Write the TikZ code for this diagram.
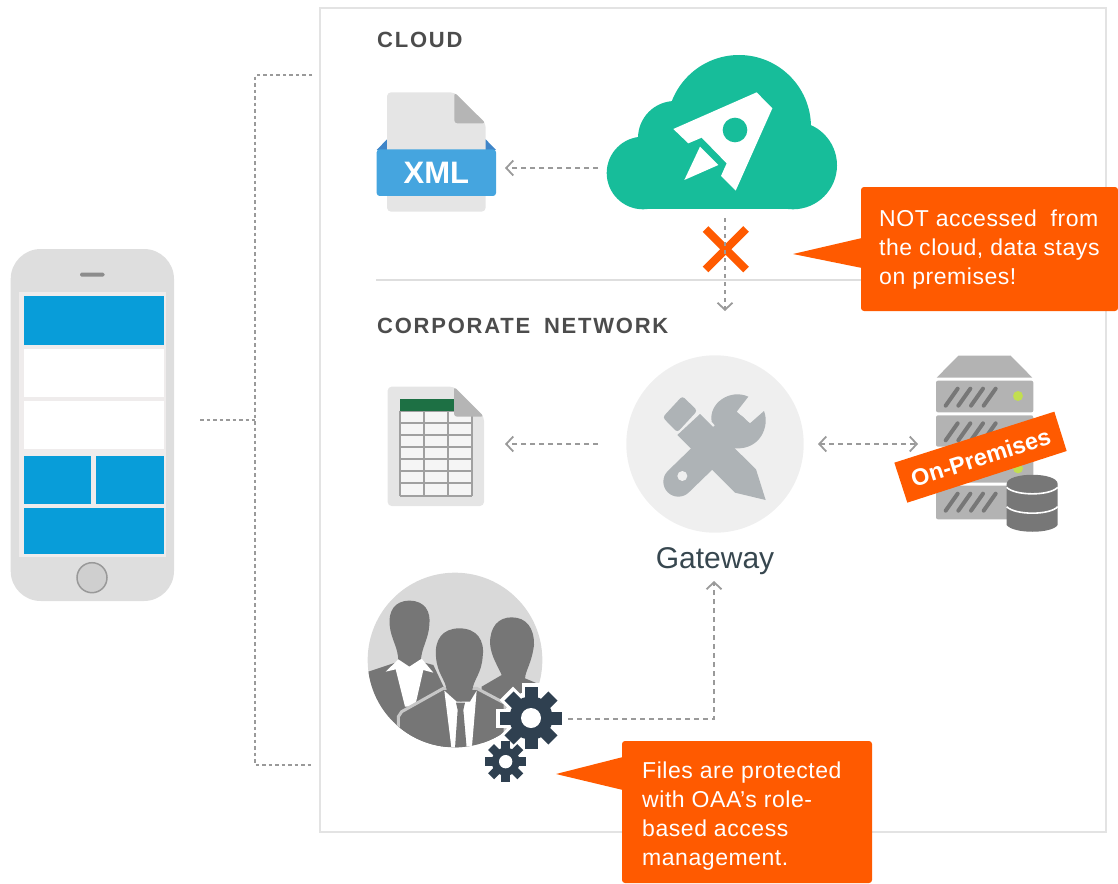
\documentclass[tikz,border=0pt]{standalone}
\usepackage{fontspec}
\setmainfont{Liberation Sans}
\newfontfamily\headfont[LetterSpace=8]{Liberation Sans}
\newfontfamily\notefont[LetterSpace=2.4]{Liberation Sans}
\usetikzlibrary{arrows.meta}
\definecolor{orangeC}{HTML}{FF5A00}
\definecolor{dashC}{HTML}{9A9A9A}
\definecolor{tealC}{HTML}{17BD9A}
\definecolor{blueC}{HTML}{089DD9}
\definecolor{xmlC}{HTML}{45A5DF}
\definecolor{xmlD}{HTML}{3F85C8}
\definecolor{pageC}{HTML}{E5E5E5}
\definecolor{foldC}{HTML}{B5B5B5}
\definecolor{toolC}{HTML}{AEB3B6}
\definecolor{srvC}{HTML}{B3B3B3}
\definecolor{srvD}{HTML}{777777}
\definecolor{gearC}{HTML}{2F4050}
\definecolor{persC}{HTML}{767676}
\definecolor{screenC}{HTML}{EFECEC}
\definecolor{gridC}{HTML}{A0A0A0}
\definecolor{cellC}{HTML}{F5F5F5}
\definecolor{greenC}{HTML}{1D7044}
\definecolor{gateC}{HTML}{EFEFEF}
\definecolor{labelC}{HTML}{37474F}
\definecolor{dotC}{HTML}{C2DE50}
\newcommand{\gearicon}[5]{% x,y,body r,outer r,colour
  \foreach \a in {0,45,...,315}{\draw[#5,line width=#3*0.2pt,line cap=butt] (#1,#2) -- ++(\a:#4);}
  \fill[#5] (#1,#2) circle (#3);
}
\tikzset{
  barb/.tip={Straight Barb[length=7pt,width=15pt,line width=1.8pt]},
  flow/.style={draw=dashC,line width=1.4pt,dash pattern=on 5pt off 4pt},
  arrowhead/.style={-barb},
  bothheads/.style={barb-barb},
  link/.style={draw=dashC,line width=1.4pt,dash pattern=on 3.5pt off 3pt},
  panel/.style={inner sep=0pt,outer sep=0pt,anchor=north west},
  calloutbox/.style={fill=orangeC,rounded corners=3pt,inner sep=0pt,outer sep=0pt,anchor=north west},
  callouttext/.style={text=white,align=left,inner sep=0pt,anchor=west,font=\fontsize{23}{29}\selectfont\notefont},
  heading/.style={anchor=base west,inner sep=0pt,text=black!70,font=\fontsize{22}{26}\selectfont\headfont\bfseries},
  zoomA/.style={xshift=360pt,yshift=-40pt,x=0.33333pt,y=-0.33333pt},
  zoomB/.style={xshift=620pt,yshift=-340pt,x=0.33333pt,y=-0.33333pt},
  zoomC/.style={xshift=355pt,yshift=-560pt,x=0.33333pt,y=-0.33333pt},
  zoomD/.style={xshift=375pt,yshift=-375pt,x=0.33333pt,y=-0.33333pt},
}
\begin{document}
\begin{tikzpicture}[x=1pt,y=-1pt]
\useasboundingbox (0,0) rectangle (1118,883);
% main frame
\node[panel,draw=black!11,line width=2pt,minimum width=786pt,minimum height=824pt] (frame) at (320,8) {};
\draw[black!13,line width=1.6pt] (376,280) -- (1000,280);
% phone
\fill[black!13,rounded corners=30pt] (10.7,249) rectangle (174,601);
\fill[screenC] (19,292) rectangle (166,557);
\foreach \ya/\yb in {296/344.5,455.7/504,508/554}{\fill[blueC] (23.5,\ya) rectangle (163.5,\yb);}
\fill[white] (23.5,348.7) rectangle (163.5,396.7);
\fill[white] (23.5,401) rectangle (163.5,449);
\fill[screenC] (91,455) rectangle (95.5,504);
\fill[black!45,rounded corners=1.5pt] (80,272.7) rectangle (104.5,276.7);
\draw[fill=black!19,draw=black!40,line width=1.5pt] (92,577.7) circle (15);
% phone links
\coordinate (phoneR) at (200,420);
\coordinate (busM) at (255,420);
\coordinate (busT) at (255,75);
\coordinate (busB) at (255,765);
\coordinate (frameT) at (312,75);
\coordinate (frameB) at (312,765);
\draw[link] (phoneR) -- (busM);
\draw[link] (frameT) -- (busT) -- (busB) -- (frameB);
% headings
\node[heading] (cloudlabel) at (377,48) {CLOUD};
\node[heading] (corplabel) at (377,333) {CORPORATE\hspace{6pt} NETWORK};
% XML file
\begin{scope}[zoomA]
\fill[xmlD] (50,330) -- (81,298) -- (377,298) -- (408,330) -- cycle;
\fill[pageC,rounded corners=4pt] (81,515) -- (81,157) -- (283,157) -- (377,250) -- (377,515) -- cycle;
\fill[foldC,rounded corners=3pt] (283,157) -- (377,250) -- (283,250) -- cycle;
\fill[xmlC,rounded corners=3pt] (50,328) rectangle (408,468);
\node[text=white,inner sep=0pt,font=\fontsize{31}{31}\selectfont\bfseries] (xmltext) at (229,400) {XML};
\end{scope}
% cloud
\fill[tealC] (643,173) circle (36.3);
\fill[tealC] (675,138) circle (37);
\fill[tealC] (739,127) circle (72);
\fill[tealC] (793,165.3) circle (44);
\fill[tealC] (643,150) rectangle (793,209.3);
\begin{scope}[zoomA]
\fill[white] (1190,157) -- (1237,205) -- (1127,452) -- (1083,408) -- (1100,370) -- (1025,293) -- (985,310) -- (940,267) -- cycle;
\fill[tealC] (1125,270) circle (37);
\fill[white] (1020,320) -- (1075,375) -- (973,420) -- cycle;
\end{scope}
\coordinate (cloudW) at (598,168);
\coordinate (xmlE) at (505,168);
\draw[flow,arrowhead] (cloudW) -- (xmlE);
% blocked link
\coordinate (xa) at (705.5,229);
\coordinate (xb) at (746,269.5);
\coordinate (xc) at (746,229);
\coordinate (xd) at (705.5,269.5);
\draw[orangeC,line width=8pt] (xa) -- (xb);
\draw[orangeC,line width=8pt] (xc) -- (xd);
\coordinate (cloudS) at (725,218);
\coordinate (gateN) at (725,311);
\draw[flow,line width=1.2pt,dash pattern=on 4pt off 4pt,arrowhead] (cloudS) -- (gateN);
% callout 1
\node[calloutbox,minimum width=257pt,minimum height=124pt] (note1) at (861,187) {};
\fill[orangeC] (793,254) -- (862,238) -- (862,268) -- cycle;
\node[callouttext] (note1text) at (879,249.5) {NOT accessed~ from\\the cloud, data stays\\on premises!};
% sheet
\begin{scope}[zoomD]
\fill[pageC,rounded corners=4pt] (38,393) -- (38,35) -- (237,35) -- (327,125) -- (327,393) -- cycle;
\fill[cellC] (74,107) rectangle (290,362);
\foreach \yy in {107,143,179,215,251,288,325,362}{\draw[gridC,line width=2.2pt] (74,\yy) -- (290,\yy);}
\foreach \xx in {74,147,218,290}{\draw[gridC,line width=2.2pt] (\xx,107) -- (\xx,362);}
\fill[greenC] (74,72) rectangle (237,107);
\fill[foldC,rounded corners=3pt] (237,35) -- (327,125) -- (237,125) -- cycle;
\end{scope}
\coordinate (gateW) at (598,444);
\coordinate (sheetE) at (505,444);
\draw[flow,arrowhead] (gateW) -- (sheetE);
% gateway
\node[circle,fill=gateC,minimum size=177.4pt,inner sep=0pt,outer sep=0pt] (gateway) at (715,444) {};
\node[inner sep=0pt,font=\fontsize{30}{30}\selectfont,text=labelC] (gatewaylabel) at (715,561) {Gateway};
\begin{scope}[zoomB]
\fill[toolC,rounded corners=3pt] (187,168) -- (232,212) -- (172,277) -- (128,232) -- cycle;
\fill[toolC] (240,222) -- (408,388) -- (437,480) -- (345,458) -- (172,285) -- cycle;
\draw[toolC,line width=30pt,line cap=round] (175,425) -- (340,265);
\fill[toolC] (385,170) .. controls (330,145) and (265,190) .. (275,245) -- (345,325) .. controls (420,330) and (450,260) .. (432,213) -- (390,250) -- (350,215) -- cycle;
\fill[gateC] (187,408) circle (15);
\end{scope}
\coordinate (gateE) at (818,444);
\coordinate (srvW) at (918,444);
\draw[flow,bothheads] (gateE) -- (srvW);
% server
\begin{scope}[zoomB]
\fill[srvC] (950,113) -- (1015,47) -- (1172,47) -- (1237,113) -- cycle;
\foreach \ya/\yb in {122/217,226/320,330/428,437/538}{
  \fill[srvC,rounded corners=2pt] (948,\ya) rectangle (1240,\yb);
  \foreach \dx in {0,38,76,114}{
    \draw[srvD,line width=4pt,line cap=round] ({\dx+1013},{\ya+24}) -- ({\dx+977},{\ya+75});
  }
}
\fill[dotC] (1194,168) circle (15);
\fill[dotC] (1194,385) circle (15);
\fill[orangeC] (1303,215) -- (1340,333) -- (862,488) -- (823,368) -- cycle;
\node[rotate=17.7,text=white,inner sep=0pt,font=\fontsize{23.5}{24}\selectfont\bfseries] (onprem) at (1082,352) {On-Premises};
% database
\fill[srvD] (1160,432) -- (1160,555) .. controls (1180,582) and (1295,582) .. (1313,555) -- (1313,432) .. controls (1313,395) and (1160,395) .. (1160,432) -- cycle;
\draw[white,line width=1.6pt] (1160,442) .. controls (1185,468) and (1290,468) .. (1313,442);
\draw[white,line width=1.6pt] (1160,500) .. controls (1185,526) and (1290,526) .. (1313,500);
\end{scope}
% people
\begin{scope}[zoomC]
\fill[black!15] (300,300) circle (262);
\begin{scope}
\clip (300,300) circle (262);
% right person
\fill[persC] (470,172) .. controls (515,172) and (538,205) .. (537,255) .. controls (530,310) and (512,330) .. (510,355) -- (570,380) -- (570,560) -- (380,560) -- (380,380) -- (440,345) .. controls (430,320) and (408,290) .. (405,250) .. controls (405,200) and (430,172) .. (470,172) -- cycle;
% left person
\fill[persC] (163,122) .. controls (210,122) and (228,155) .. (223,195) .. controls (220,240) and (200,260) .. (197,305) -- (235,315) -- (275,400) -- (275,560) -- (40,560) -- (40,335) -- (130,305) .. controls (130,260) and (108,240) .. (104,195) .. controls (100,155) and (118,122) .. (163,122) -- cycle;
\fill[white] (92,335) -- (130,298) -- (163,320) -- (200,296) -- (235,338) -- (205,330) -- (180,440) -- (150,440) -- (122,328) -- cycle;
% centre person
\fill[persC,draw=black!22,line width=3pt] (130,470) -- (140,455) -- (265,385) -- (365,385) -- (450,430) -- (450,580) -- (130,580) -- cycle;
\fill[white] (268,392) -- (305,425) -- (345,425) -- (365,392) -- (350,570) -- (290,570) -- cycle;
\fill[persC] (313,205) .. controls (365,205) and (390,240) .. (383,290) .. controls (380,340) and (355,360) .. (352,390) -- (318,425) -- (275,390) .. controls (272,360) and (246,340) .. (243,290) .. controls (238,240) and (262,205) .. (313,205) -- cycle;
\fill[persC] (303,428) -- (330,428) -- (325,450) -- (335,565) -- (300,565) -- (308,450) -- cycle;
\end{scope}
\foreach \a in {0,45,...,315}{\draw[white,line width=19pt] (528,474) -- ++(\a:105);}
\fill[white] (528,474) circle (80);
\gearicon{528}{474}{65}{93}{gearC}
\fill[white] (528,474) circle (30);
\gearicon{452}{605}{42}{62}{gearC}
\fill[white] (452,605) circle (20);
\end{scope}
% role link
\coordinate (gearE) at (568,719);
\coordinate (elbow) at (714,719);
\coordinate (gateS) at (714,581);
\draw[flow,arrowhead] (gearE) -- (elbow) -- (gateS);
% callout 2
\node[calloutbox,minimum width=250pt,minimum height=142pt] (note2) at (622,741) {};
\fill[orangeC] (556,774) -- (623,757) -- (623,790) -- cycle;
\node[callouttext] (note2text) at (642,816.5) {Files are protected\\with OAA’s role-\\based access\\management.};
\end{tikzpicture}
\end{document}
